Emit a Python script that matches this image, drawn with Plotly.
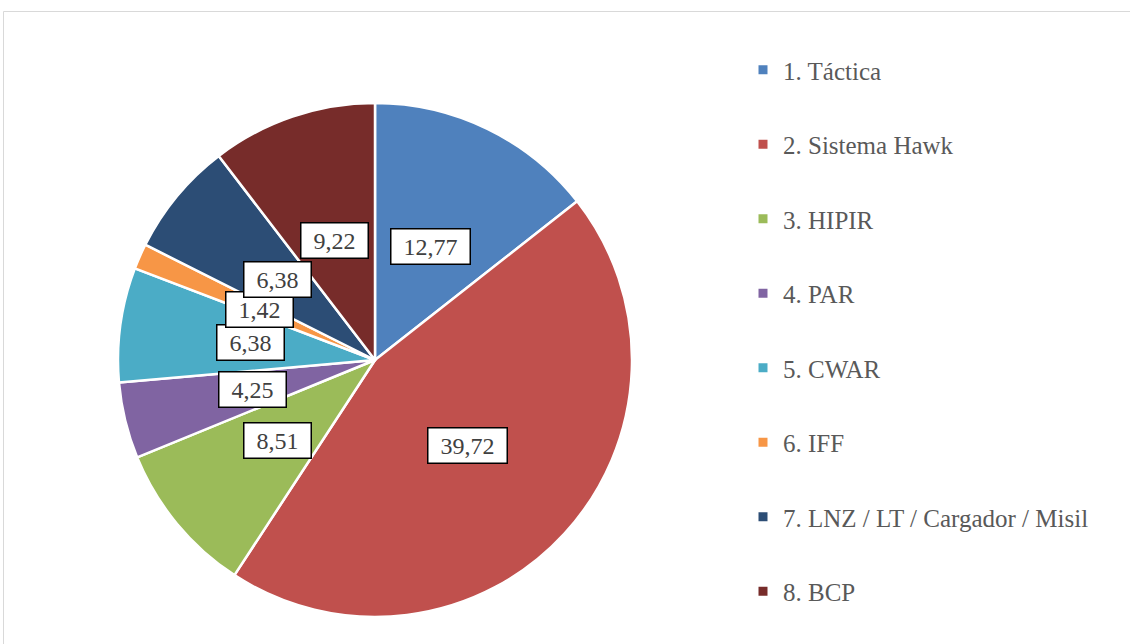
import math
import plotly.graph_objects as go

categories = ["1. Táctica", "2. Sistema Hawk", "3. HIPIR", "4. PAR", "5. CWAR",
              "6. IFF", "7. LNZ / LT / Cargador / Misil", "8. BCP"]
values = [12.77, 39.72, 8.51, 4.25, 6.38, 1.42, 6.38, 9.22]
colors = ["#4F81BD", "#C0504D", "#9BBB59", "#8064A2", "#4BACC6",
          "#F79646", "#2C4D75", "#772C2A"]

W, H = 1130, 644
FONT = "Liberation Serif"

dom_x = [(375 - 257) / W, (375 + 257) / W]
dom_y = [1 - 617 / H, 1 - 103 / H]

fig = go.Figure()
fig.add_trace(go.Pie(
    labels=categories, values=values, sort=False, direction="clockwise",
    rotation=0, marker=dict(colors=colors, line=dict(color="white", width=2.5)),
    textinfo="none", hoverinfo="label+value", showlegend=False,
    domain=dict(x=dom_x, y=dom_y),
))

# legend entries
for i, (c, col) in enumerate(zip(categories, colors)):
    fig.add_trace(go.Scatter(
        x=[None], y=[None], mode="markers", name=c, legendgroup=f"g{i}",
        marker=dict(symbol="square", size=9, color=col),
    ))

# data labels positioned at mid-angle, half radius
wpx = (dom_x[1] - dom_x[0]) * W
hpx = (dom_y[1] - dom_y[0]) * H
r = min(wpx, hpx) / 2
cx = (dom_x[0] + dom_x[1]) / 2
cy = (dom_y[0] + dom_y[1]) / 2
total = sum(values)
cum = 0.0
for v in values:
    mid = (cum + v / 2) / total * 2 * math.pi
    cum += v
    px = cx + 0.49 * r * math.sin(mid) / W
    py = cy + 0.49 * r * math.cos(mid) / H
    txt = f"{v:.2f}".replace(".", ",")
    tw = sum(6 if ch == "," else 12 for ch in txt) + 16
    fig.add_annotation(
        x=px, y=py, xref="paper", yref="paper", text=txt, showarrow=False,
        font=dict(family=FONT, size=24, color="#404040"),
        bgcolor="white", bordercolor="black", borderwidth=1.5, borderpad=4,
        width=tw, xanchor="center", yanchor="middle",
    )

fig.add_shape(type="rect", xref="paper", yref="paper",
              x0=3.5 / W, x1=1.05, y0=-0.05, y1=1 - 11.5 / H,
              line=dict(color="#D9D9D9", width=1), fillcolor="rgba(0,0,0,0)")

fig.update_layout(
    width=W, height=H, margin=dict(l=0, r=0, t=0, b=0),
    paper_bgcolor="white", plot_bgcolor="white",
    xaxis=dict(visible=False), yaxis=dict(visible=False),
    legend=dict(x=(763 - 20) / W, xanchor="left", y=1 - 47 / H, yanchor="top",
                font=dict(family=FONT, size=25, color="#595959"),
                tracegroupgap=39, bgcolor="rgba(0,0,0,0)"),
    font=dict(family=FONT),
)

fig.write_html("out.html", config={"displayModeBar": False},
               post_script="document.body.style.margin='0px';document.body.style.overflow='hidden';")
